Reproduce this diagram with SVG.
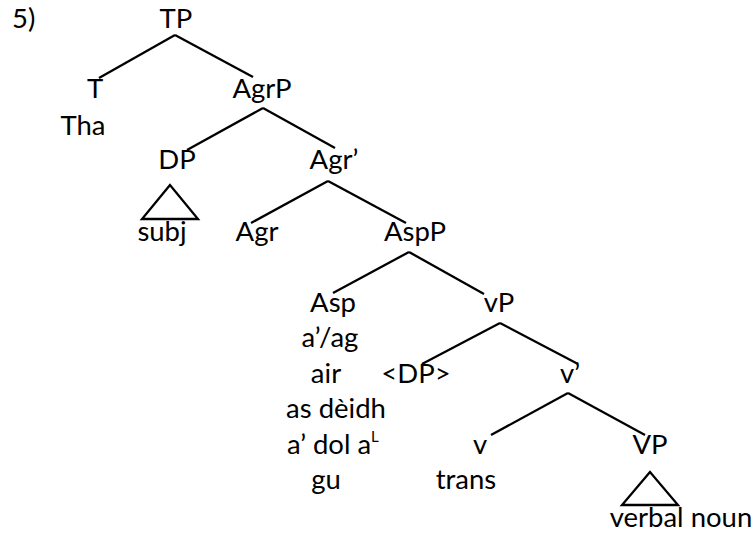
<svg xmlns="http://www.w3.org/2000/svg" width="754" height="533" viewBox="0 0 754 533">
<style>
text{font-family:Lato,"Liberation Sans",sans-serif;font-size:27.5px;fill:#000;text-anchor:middle}
.l{text-anchor:start}
#edges line,#edges polygon{stroke:#000;stroke-width:2.3;fill:none}
</style>
<rect width="754" height="533" fill="#fff"/>
<text class="l" x="12" y="28">5)</text>
<g id="edges">
<line x1="175" y1="35" x2="99" y2="78"/>
<line x1="175" y1="35" x2="253" y2="77"/>
<line x1="263" y1="108" x2="187" y2="150"/>
<line x1="263" y1="108" x2="335" y2="148"/>
<line x1="328" y1="181" x2="251" y2="223"/>
<line x1="328" y1="181" x2="406" y2="223"/>
<line x1="409" y1="252" x2="333" y2="293"/>
<line x1="409" y1="252" x2="484" y2="294"/>
<line x1="500" y1="323" x2="422" y2="364"/>
<line x1="500" y1="323" x2="578" y2="364"/>
<line x1="568" y1="393" x2="491" y2="435"/>
<line x1="568" y1="393" x2="645" y2="435"/>
<polygon points="170,185 142,219 198,219"/>
<polygon points="650,472 622,505 678,505"/>
</g>
<g id="TP"><text x="176" y="28">TP</text></g>
<g id="T"><text x="95" y="98">T</text><text x="83" y="135">Tha</text></g>
<g id="AgrP"><text x="262" y="98">AgrP</text></g>
<g id="DP"><text x="177" y="169">DP</text><text x="162" y="241">subj</text></g>
<g id="Agr1"><text x="334" y="169">Agr’</text></g>
<g id="Agr"><text x="257" y="241">Agr</text></g>
<g id="AspP"><text x="415" y="241">AspP</text></g>
<g id="Asp">
<text x="333" y="312">Asp</text>
<text x="330" y="347">a’/ag</text>
<text x="326" y="383">air</text>
<text x="336" y="418">as dèidh</text>
<text class="l" x="287" y="454">a’ dol a<tspan font-size="15" dy="-12">L</tspan></text>
<text x="326" y="489">gu</text>
</g>
<g id="vP"><text x="499" y="312">vP</text></g>
<g id="DPtrace"><text x="416" y="383">&lt;DP&gt;</text></g>
<g id="v1"><text x="570" y="383">v’</text></g>
<g id="v"><text x="480" y="454">v</text><text x="466" y="489">trans</text></g>
<g id="VP"><text x="650" y="454">VP</text><text x="681" y="527">verbal noun</text></g>
</svg>
